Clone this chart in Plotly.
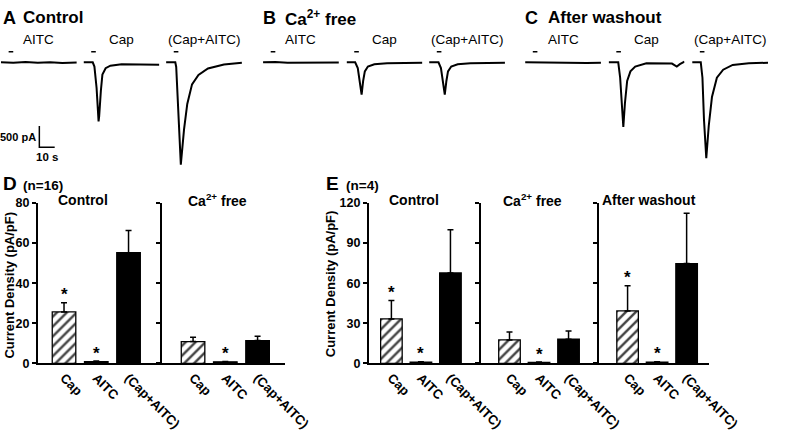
import plotly.graph_objects as go

W, H = 800, 431
FONT = "Liberation Sans, Arial, sans-serif"


def px(x):
    return x / W


def py(y):
    return 1 - y / H


# ---------------- data: bar charts (current density, pA/pF) ----------------
bar_labels = ["Cap", "AITC", "(Cap+AITC)"]

D_control_mean = [25.7, 0.9, 55.2]
D_control_sem = [4.5, 0.3, 11.1]
D_cafree_mean = [10.9, 0.8, 11.4]
D_cafree_sem = [2.1, 0.2, 2.2]
D_control_sig = [True, True, False]
D_cafree_sig = [False, True, False]

E_control_mean = [33.3, 1.0, 67.7]
E_control_sem = [13.7, 0.3, 32.3]
E_cafree_mean = [17.6, 0.8, 18.1]
E_cafree_sem = [6.0, 0.2, 6.2]
E_wash_mean = [39.3, 1.0, 74.7]
E_wash_sem = [18.8, 0.3, 37.6]
E_control_sig = [True, True, False]
E_cafree_sig = [False, True, False]
E_wash_sig = [True, True, False]

D_yticks = [0, 20, 40, 60, 80]
E_yticks = [0, 30, 60, 90, 120]

# ---------------- data: current traces (time s, current pA) ----------------
A_AITC_t = [0, 8, 16, 24, 32, 40, 49.4]
A_AITC_I = [0, -10, 5, -10, 0, -15, -5]
A_Cap_t = [0, 6.0, 7.1, 8.5, 9.8, 10.2, 11.3, 12.3, 14.4, 17.5, 24.8, 35, 49.4]
A_Cap_I = [0, 0, -100, -600, -1390, -1270, -670, -290, -140, -80, -45, -45, -55]
A_Mix_t = [0, 6.0, 6.6, 9.6, 11.7, 13.8, 16.9, 21.1, 27.3, 37.7, 49.4]
A_Mix_I = [0, 0, -110, -2410, -1580, -980, -520, -300, -145, -50, -10]

B_AITC_t = [0, 8, 16, 24, 32, 40, 49.4]
B_AITC_I = [0, 5, -10, -5, -15, 0, -5]
B_Cap_t = [0, 5.6, 7.3, 8.75, 9.8, 10.8, 11.9, 13.9, 18.1, 26.4, 49.4]
B_Cap_I = [0, 0, -136, -516, -760, -440, -214, -100, -45, -23, -10]
B_Mix_t = [0, 6.1, 7.7, 9.2, 10.2, 11.25, 12.3, 14.4, 18.6, 26.9, 49.4]
B_Mix_I = [0, 0, -136, -516, -760, -440, -214, -100, -45, -23, -10]

C_AITC_t = [0, 8, 16, 24, 32, 40, 49.4]
C_AITC_I = [0, -5, 0, -10, -5, -15, -10]
C_Cap_t = [0, 6.25, 7.5, 8.94, 9.56, 10.6, 12.06, 14.2, 17.3, 24.6, 41.25, 44.4, 46.4, 49.4]
C_Cap_I = [0, 0, -364, -1123, -1523, -970, -441, -214, -100, -23, -30, -100, -45, 15]
C_Mix_t = [0, 5.6, 6.7, 7.7, 9.2, 10.8, 12.9, 16.1, 20.2, 26.4, 36.9, 49.4]
C_Mix_I = [0, 0, -364, -1350, -2260, -1500, -818, -364, -175, -61, -23, -10]

stim_t = [5, 8]          # drug application bar (s)
stim_level = 250         # pA, drawn above baseline
scale_I = 500            # pA
scale_t = 10             # s
trace_labels = ["AITC", "Cap", "(Cap+AITC)"]

fig = go.Figure()
annotations = []
layout = dict(
    width=W, height=H, autosize=False, margin=dict(l=0, r=0, t=0, b=0, pad=0),
    paper_bgcolor="white", plot_bgcolor="white", showlegend=False,
    font=dict(family=FONT, color="black"),
)

# ---------------- bar charts ----------------
def bar_panel(xa, ya, groups, dom_px, rng, ymax, yticks):
    xs, ys, es, pats, sigx, sigy = [], [], [], [], [], []
    tickvals, ticktext = [], []
    for gi, (mean, sem, sig) in enumerate(groups):
        for j in range(3):
            pos = gi * 4 + j
            xs.append(pos)
            ys.append(mean[j])
            es.append(sem[j])
            pats.append("/" if j == 0 else "")
            tickvals.append(pos)
            ticktext.append(bar_labels[j])
            if sig[j]:
                sigx.append(pos)
                sigy.append(mean[j] + sem[j])
    colors = ["white" if p == "/" else "black" for p in pats]
    fig.add_trace(go.Bar(
        x=xs, y=ys, width=0.73, xaxis=xa, yaxis=ya,
        marker=dict(color=colors, line=dict(color="black", width=1.3),
                    pattern=dict(shape=pats, fgcolor="black", bgcolor="white",
                                 fgopacity=1, size=7, solidity=0.35, fillmode="overlay")),
        error_y=dict(type="data", array=es, arrayminus=[0] * len(es), symmetric=False,
                     color="black", thickness=1.5, width=3),
        hoverinfo="skip",
    ))
    for sx, sy in zip(sigx, sigy):
        annotations.append(dict(text="<b>*</b>", x=sx, y=sy, xref=xa, yref=ya,
                                showarrow=False, yanchor="middle", yshift=8,
                                font=dict(size=17, family=FONT)))
    xkey = "xaxis" + xa[1:]
    ykey = "yaxis" + ya[1:]
    layout[xkey] = dict(domain=[px(dom_px[0]), px(dom_px[1])], range=rng, anchor=ya,
                        showline=True, linecolor="black", linewidth=1.5, ticks="",
                        tickvals=tickvals, ticktext=ticktext, tickangle=45,
                        tickfont=dict(size=13, weight="bold", family=FONT),
                        showgrid=False, zeroline=False, fixedrange=True)
    layout[ykey] = dict(domain=[py(369.3), py(203)], range=[0, ymax], anchor=xa,
                        showline=True, linecolor="black", linewidth=1.5,
                        ticks="outside", ticklen=4, tickwidth=1.5, tickcolor="black",
                        tickvals=yticks, tickfont=dict(size=12.5, weight="bold", family=FONT),
                        showgrid=False, zeroline=False, fixedrange=True)


bar_panel("x", "y",
          [(D_control_mean, D_control_sem, D_control_sig),
           (D_cafree_mean, D_cafree_sem, D_cafree_sig)],
          (39.3, 296.7), [-0.815, 6.845], 80, D_yticks)
bar_panel("x2", "y2",
          [(E_control_mean, E_control_sem, E_control_sig),
           (E_cafree_mean, E_cafree_sem, E_cafree_sig),
           (E_wash_mean, E_wash_sem, E_wash_sig)],
          (384, 738.3), [-0.771, 10.75], 120, E_yticks)

# divider axes (group separators with tick marks)
dividers = [("y3", "y", "x", 167.5, 80, D_yticks),
            ("y4", "y2", "x2", 500.0, 120, E_yticks),
            ("y5", "y2", "x2", 622.7, 120, E_yticks)]
for ya, base, xa, xpos, ymax, yt in dividers:
    layout["yaxis" + ya[1:]] = dict(
        overlaying=base, anchor="free", position=px(xpos), range=[0, ymax],
        showline=True, linecolor="black", linewidth=1.5, ticks="outside",
        ticklen=4, tickwidth=1.5, tickcolor="black", tickvals=yt,
        showticklabels=False, showgrid=False, zeroline=False, fixedrange=True)
    fig.add_trace(go.Scatter(x=[None], y=[None], xaxis=xa, yaxis=ya,
                             hoverinfo="skip", showlegend=False))

# ---------------- current traces ----------------
trace_sets = [
    [(A_AITC_t, A_AITC_I), (A_Cap_t, A_Cap_I), (A_Mix_t, A_Mix_I)],
    [(B_AITC_t, B_AITC_I), (B_Cap_t, B_Cap_I), (B_Mix_t, B_Mix_I)],
    [(C_AITC_t, C_AITC_I), (C_Cap_t, C_Cap_I), (C_Mix_t, C_Mix_I)],
]
trace_left_px = [[1, 87, 173], [274, 361, 447], [547, 634, 721]]
TRACE_W = 79
T_RANGE = [0, 49.4]
I_RANGE = [-2562, 393]   # 0.044 px per pA, baseline at y=57.3 px

n = 6
for pi, tset in enumerate(trace_sets):
    for ti, (t, cur) in enumerate(tset):
        xa, ya = f"x{n}", f"y{n}"
        left = trace_left_px[pi][ti]
        layout[f"xaxis{n}"] = dict(domain=[px(left), px(left + TRACE_W)], range=T_RANGE,
                                   anchor=ya, visible=False, fixedrange=True)
        layout[f"yaxis{n}"] = dict(domain=[py(170), py(40)], range=I_RANGE,
                                   anchor=xa, visible=False, fixedrange=True)
        fig.add_trace(go.Scatter(x=t, y=cur, xaxis=xa, yaxis=ya, mode="lines",
                                 line=dict(color="black", width=2),
                                 hoverinfo="skip"))
        fig.add_trace(go.Scatter(x=stim_t, y=[stim_level, stim_level], xaxis=xa, yaxis=ya,
                                 mode="lines", line=dict(color="black", width=1.5),
                                 hoverinfo="skip"))
        annotations.append(dict(text=trace_labels[ti], xref=f"{xa} domain", x=0.5,
                                yref="paper", y=py(34), showarrow=False,
                                yanchor="middle", xanchor="center",
                                font=dict(size=13.5, family=FONT)))
        if pi == 0 and ti == 0:
            # scale bar
            x0 = 25
            y0 = -1500
            fig.add_trace(go.Scatter(x=[x0, x0, x0 + scale_t],
                                     y=[y0, y0 - scale_I, y0 - scale_I],
                                     xaxis=xa, yaxis=ya, mode="lines",
                                     line=dict(color="black", width=1.5),
                                     hoverinfo="skip"))
            annotations.append(dict(text="<b>500 pA</b>", x=x0 - 0.6, y=y0 - scale_I * 0.5,
                                    xref=xa, yref=ya, xanchor="right", yanchor="middle",
                                    showarrow=False, font=dict(size=11, family=FONT)))
            annotations.append(dict(text="<b>10 s</b>", x=x0 + scale_t * 0.5,
                                    y=y0 - scale_I, xref=xa, yref=ya, xanchor="center",
                                    yanchor="top", yshift=-2, showarrow=False,
                                    font=dict(size=11.5, family=FONT)))
        n += 1

# ---------------- text labels ----------------
def label(text, x, y, size, xanchor="left", bold=True, angle=0):
    annotations.append(dict(text=f"<b>{text}</b>" if bold else text,
                            x=px(x), y=py(y), xref="paper", yref="paper",
                            xanchor=xanchor, yanchor="middle", showarrow=False,
                            textangle=angle, font=dict(size=size, family=FONT)))


label("A", 1, 11, 18)
label("Control", 22, 11, 17)
label("B", 272, 11, 18)
label("Ca<sup>2+</sup> free", 295, 11, 17)
label("C", 545, 11, 18)
label("After washout", 569, 11, 17)

label("D", 1, 183, 19)
label("(n=16)", 22, 185, 13.5)
label("E", 338, 183, 19)
label("(n=4)", 358, 185, 13.5)

label("Control", 86, 200, 14, "center")
label("Ca<sup>2+</sup> free", 226.5, 200, 14, "center")
label("Control", 431, 200, 14, "center")
label("Ca<sup>2+</sup> free", 555, 200, 14, "center")
label("After washout", 676, 200, 14, "center")

label("Current Density (pA/pF)", 10, 288, 13, "center", angle=-90)
label("Current Density (pA/pF)", 344, 287, 13, "center", angle=-90)

layout["annotations"] = annotations
fig.update_layout(**layout)

fix_page = (
    "var box='margin:0;padding:0;overflow:hidden;width:800px;height:431px;';"
    "document.documentElement.style.cssText=box;"
    "document.body.style.cssText=box;"
    "var gd=document.getElementById('{plot_id}');"
    "gd.style.overflow='hidden';"
    "function clipAll(){gd.querySelectorAll('.plot-container,.svg-container,.main-svg')"
    ".forEach(function(e){e.style.overflow='hidden';});window.scrollTo(0,0);}"
    "clipAll();"
    "Plotly.relayout(gd,{width:800,height:431}).then(clipAll);"
)
fig.write_html("out.html", config={"responsive": False, "displayModeBar": False},
               post_script=fix_page)
